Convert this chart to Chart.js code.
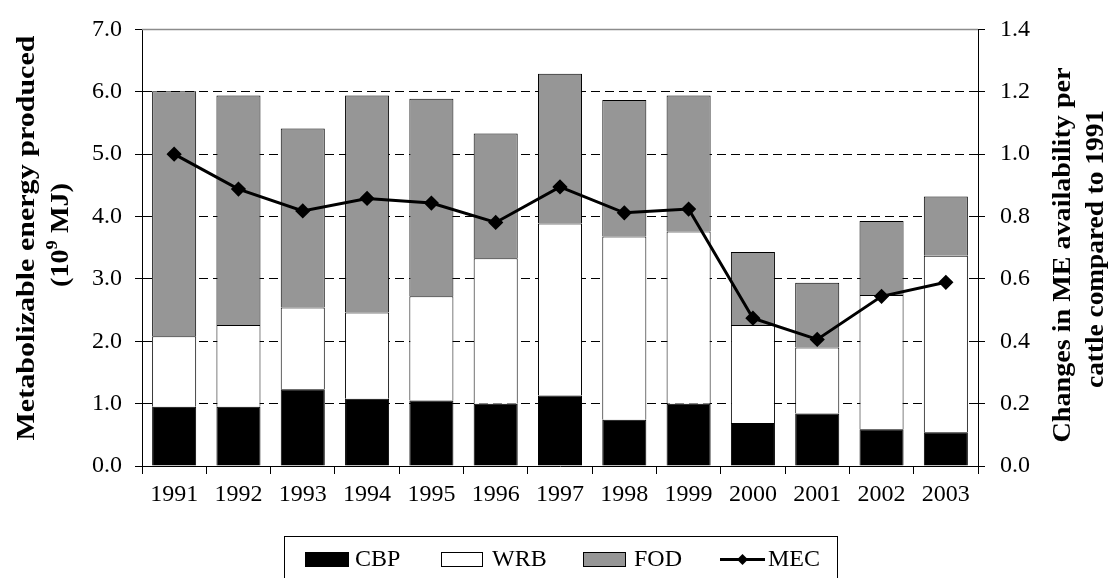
<!DOCTYPE html>
<html>
<head>
<meta charset="utf-8">
<script src="https://cdn.jsdelivr.net/npm/chart.js@4"></script>
<style>
body{margin:0;background:#fff}
#wrap{width:1110px;height:578px}
</style>
</head>
<body>
<div id="wrap"><canvas id="grafico" width="1110" height="578"></canvas></div>
<script>
const anos = ["1991","1992","1993","1994","1995","1996","1997","1998","1999","2000","2001","2002","2003"]
const cbp = [0.95, 0.95, 1.23, 1.08, 1.05, 1.00, 1.13, 0.74, 1.00, 0.69, 0.84, 0.59, 0.54]
const wrb = [1.13, 1.31, 1.31, 1.38, 1.67, 2.33, 2.76, 2.94, 2.76, 1.57, 1.06, 2.15, 2.83]
const fod = [3.93, 3.68, 2.87, 3.48, 3.17, 2.00, 2.40, 2.19, 2.18, 1.17, 1.04, 1.19, 0.95]
const mec = [1.00, 0.888, 0.818, 0.858, 0.843, 0.781, 0.895, 0.812, 0.824, 0.474, 0.406, 0.544, 0.589]

const tituloEsq = ["Metabolizable energy produced", "(10", "9", " MJ)"]
const tituloDir = ["Changes in ME availability per", "cattle compared to 1991"]

const fonte = "'Liberation Serif', 'Times New Roman', serif"

// desenha um texto girado -90 graus, esticado ate o comprimento pedido
function textoGirado(ctx, partes, cx, cy, comprimento){
  ctx.save()
  ctx.translate(cx, cy)
  ctx.rotate(-Math.PI / 2)
  let total = 0
  partes.forEach(p => { ctx.font = p.f; total += ctx.measureText(p.t).width })
  const esc = comprimento / total
  ctx.scale(esc, 1)
  ctx.fillStyle = "#000"
  ctx.textBaseline = "middle"
  ctx.textAlign = "left"
  let x = -total / 2
  partes.forEach(p => {
    ctx.font = p.f
    ctx.fillText(p.t, x, p.dy || 0)
    x += ctx.measureText(p.t).width
  })
  ctx.restore()
}

const extras = {
  id: "extras",
  beforeDatasetsDraw(chart){
    const {ctx, chartArea} = chart
    ctx.save()
    ctx.strokeStyle = "#8c8c8c"
    ctx.lineWidth = 1.5
    ctx.beginPath()
    ctx.moveTo(chartArea.left, chartArea.top)
    ctx.lineTo(chartArea.right, chartArea.top)
    ctx.stroke()
    ctx.restore()
  },
  afterDraw(chart){
    const ctx = chart.ctx
    const negrito = "bold 26px " + fonte
    textoGirado(ctx, [{t: tituloEsq[0], f: negrito}], 27, 238, 405)
    textoGirado(ctx, [
      {t: tituloEsq[1], f: negrito},
      {t: tituloEsq[2], f: "bold 17px " + fonte, dy: -8},
      {t: tituloEsq[3], f: negrito}
    ], 61, 235, 104)
    textoGirado(ctx, [{t: tituloDir[0], f: negrito}], 1063, 255, 375)
    textoGirado(ctx, [{t: tituloDir[1], f: negrito}], 1096, 249, 278)

    // legenda com moldura
    ctx.save()
    ctx.strokeStyle = "#000"
    ctx.lineWidth = 1
    ctx.strokeRect(284.5, 536.5, 553, 60)
    const ds = chart.data.datasets
    const itens = [
      {sx: 305, sw: 44, tx: 355, d: ds[0]},
      {sx: 441, sw: 42, tx: 492, d: ds[1]},
      {sx: 583, sw: 43, tx: 634, d: ds[2]}
    ]
    ctx.font = "24px " + fonte
    ctx.textBaseline = "middle"
    ctx.fillStyle = "#000"
    itens.forEach(it => {
      ctx.fillStyle = it.d.backgroundColor
      ctx.fillRect(it.sx, 552, it.sw, 15)
      ctx.strokeStyle = "#000"
      ctx.strokeRect(it.sx + 0.5, 552.5, it.sw - 1, 14)
      ctx.fillStyle = "#000"
      ctx.fillText(it.d.label, it.tx, 560)
    })
    ctx.lineWidth = 3
    ctx.beginPath()
    ctx.moveTo(720, 559.5)
    ctx.lineTo(765, 559.5)
    ctx.stroke()
    ctx.beginPath()
    ctx.moveTo(742.5, 554)
    ctx.lineTo(748, 559.5)
    ctx.lineTo(742.5, 565)
    ctx.lineTo(737, 559.5)
    ctx.closePath()
    ctx.fill()
    ctx.fillText(ds[3].label, 768, 560)
    ctx.restore()
  }
}

const ctx = document.getElementById("grafico").getContext("2d")
new Chart(ctx, {
  data: {
    labels: anos,
    datasets: [
      {type: "bar", label: "CBP", data: cbp, backgroundColor: "#000000", borderColor: "#000", borderWidth: 1, yAxisID: "y", order: 1},
      {type: "bar", label: "WRB", data: wrb, backgroundColor: "#ffffff", borderColor: "#000", borderWidth: 1, yAxisID: "y", order: 1},
      {type: "bar", label: "FOD", data: fod, backgroundColor: "#969696", borderColor: "#000", borderWidth: 1, yAxisID: "y", order: 1},
      {type: "line", label: "MEC", data: mec, borderColor: "#000", borderWidth: 3, pointStyle: "rectRot",
        pointRadius: 5.5, pointBackgroundColor: "#000", pointBorderColor: "#000", tension: 0, yAxisID: "y1", order: 0}
    ]
  },
  options: {
    responsive: false,
    animation: false,
    devicePixelRatio: 1,
    layout: {padding: {top: 23, left: 0, right: 0, bottom: 0}},
    datasets: {bar: {categoryPercentage: 1, barPercentage: 0.685}},
    plugins: {legend: {display: false}, tooltip: {enabled: false}},
    scales: {
      x: {
        stacked: true,
        ticks: {color: "#000", font: {family: fonte, size: 24}, padding: 6, maxRotation: 0, autoSkip: false},
        grid: {offset: true, drawOnChartArea: false, color: "#000", tickLength: 8},
        border: {color: "#000", width: 1},
        afterFit: s => { s.height = 112 }
      },
      y: {
        stacked: true,
        position: "left",
        min: 0, max: 7,
        ticks: {stepSize: 1, callback: v => v.toFixed(1), color: "#000", font: {family: fonte, size: 24}, padding: 13},
        grid: {color: c => c.tick && c.tick.value === 7 ? "rgba(0,0,0,0)" : "#000", lineWidth: 1,
          tickColor: "#000", tickLength: 7, tickBorderDash: []},
        border: {color: "#000", width: 1, dash: [9, 5]},
        afterFit: s => { s.width = 142 }
      },
      y1: {
        position: "right",
        min: 0, max: 1.4,
        ticks: {stepSize: 0.2, callback: v => v.toFixed(1), color: "#000", font: {family: fonte, size: 24}, padding: 15},
        grid: {drawOnChartArea: false, tickColor: "#000", tickLength: 7},
        border: {color: "#000", width: 1},
        afterFit: s => { s.width = 132 }
      }
    }
  },
  plugins: [extras]
})
</script>
</body>
</html>
